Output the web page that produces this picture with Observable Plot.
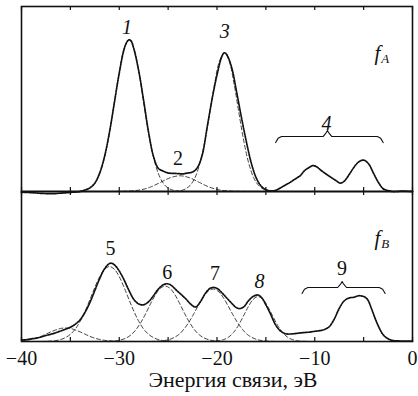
<!DOCTYPE html>
<html><head><meta charset="utf-8">
<script src="https://cdn.jsdelivr.net/npm/d3@7"></script>
<script src="https://cdn.jsdelivr.net/npm/@observablehq/plot@0.6"></script>
<style>
body{margin:0;background:#fff}
#chart svg{display:block}
#chart svg, #chart svg text{font-family:"Liberation Serif","Times New Roman",serif !important}
</style>
</head><body><div id="chart"></div>
<script>
// ---- data (binding energy, eV ; relative intensity) ----
const xTicks = [-40, -30, -20, -10, 0];
const xMinorTicks = [-40, -35, -30, -25, -20, -15, -10, -5, 0];
const xTitle = "Энергия связи, эВ";

const fA = [[-40,-0.004],[-39.5,-0.005],[-39,-0.006],[-38.5,-0.008],[-38,-0.01],[-37.5,-0.011],[-37,-0.012],[-36.5,-0.011],[-36,-0.009],[-35.5,-0.007],[-35,-0.005],[-34.5,-0.003],[-34,0],[-33.5,0.008],[-33,0.02],[-32.5,0.045],[-32,0.1],[-31.5,0.19],[-31,0.32],[-30.5,0.48],[-30,0.64],[-29.5,0.77],[-29.2,0.81],[-29,0.82],[-28.8,0.815],[-28.5,0.77],[-28,0.65],[-27.5,0.49],[-27,0.32],[-26.5,0.19],[-26,0.125],[-25.5,0.11],[-25,0.1],[-24.5,0.098],[-24,0.097],[-23.5,0.095],[-23,0.1],[-22.5,0.105],[-22,0.13],[-21.5,0.2],[-21,0.35],[-20.5,0.5],[-20,0.63],[-19.5,0.73],[-19.25,0.75],[-19,0.74],[-18.5,0.67],[-18,0.54],[-17.5,0.4],[-17,0.27],[-16.5,0.155],[-16,0.075],[-15.5,0.03],[-15,0.01],[-14.5,0.003],[-14,0.006],[-13.5,0.02],[-13,0.035],[-12.5,0.05],[-12,0.068],[-11.5,0.085],[-11,0.115],[-10.5,0.132],[-10.2,0.14],[-9.8,0.133],[-9.3,0.112],[-8.8,0.093],[-8.3,0.075],[-7.8,0.058],[-7.4,0.045],[-7,0.055],[-6.5,0.09],[-6,0.13],[-5.5,0.16],[-5,0.17],[-4.5,0.15],[-4,0.1],[-3.5,0.05],[-3,0.015],[-2.5,0.005],[-2,0],[-1,0.002],[0,0]];

const compA1 = [[-34,0.002],[-33.5,0.007],[-33,0.018],[-32.5,0.045],[-32,0.097],[-31.5,0.186],[-31,0.317],[-30.5,0.48],[-30,0.646],[-29.5,0.772],[-29,0.82],[-28.5,0.772],[-28,0.646],[-27.5,0.48],[-27,0.317],[-26.5,0.186],[-26,0.097],[-25.5,0.045],[-25,0.018],[-24.5,0.007],[-24,0.002],[-22,0]];
const compA2 = [[-31,0],[-29.8,0.001],[-28.8,0.003],[-27.8,0.009],[-26.8,0.024],[-25.8,0.049],[-24.8,0.074],[-23.8,0.085],[-22.8,0.074],[-21.8,0.049],[-20.8,0.024],[-19.8,0.009],[-18.8,0.003],[-17.8,0.001],[-15,0]];
const compA3 = [[-25,0],[-24.25,0.001],[-23.75,0.004],[-23.25,0.013],[-22.75,0.033],[-22.25,0.075],[-21.75,0.152],[-21.25,0.27],[-20.75,0.422],[-20.25,0.581],[-19.75,0.704],[-19.25,0.75],[-18.75,0.704],[-18.25,0.581],[-17.75,0.422],[-17.25,0.27],[-16.75,0.152],[-16.25,0.075],[-15.75,0.033],[-15.25,0.013],[-14.75,0.004],[-14.25,0.001],[-13,0]];

const fB = [[-40,0.01],[-39.5,0.012],[-39,0.018],[-38.5,0.022],[-38,0.03],[-37.5,0.04],[-37,0.048],[-36.5,0.058],[-36,0.07],[-35.5,0.082],[-35,0.095],[-34.5,0.115],[-34,0.145],[-33.5,0.195],[-33,0.26],[-32.5,0.34],[-32,0.42],[-31.5,0.485],[-31,0.52],[-30.7,0.52],[-30.4,0.505],[-30,0.47],[-29.5,0.41],[-29,0.34],[-28.5,0.28],[-28,0.25],[-27.5,0.245],[-27,0.265],[-26.5,0.305],[-26,0.35],[-25.5,0.378],[-25.1,0.385],[-24.7,0.375],[-24.2,0.345],[-23.7,0.315],[-23.2,0.285],[-22.7,0.25],[-22.2,0.23],[-21.7,0.265],[-21.2,0.32],[-20.7,0.355],[-20.3,0.36],[-19.9,0.35],[-19.5,0.325],[-19,0.29],[-18.5,0.255],[-18,0.225],[-17.6,0.22],[-17.2,0.235],[-16.8,0.27],[-16.3,0.3],[-15.8,0.31],[-15.4,0.29],[-15,0.245],[-14.5,0.18],[-14,0.11],[-13.5,0.07],[-13,0.052],[-12.5,0.05],[-12,0.053],[-11.5,0.057],[-11,0.06],[-10.5,0.063],[-10,0.068],[-9.5,0.072],[-9,0.08],[-8.5,0.1],[-8,0.15],[-7.5,0.22],[-7,0.27],[-6.5,0.29],[-6,0.295],[-5.5,0.305],[-5,0.3],[-4.6,0.28],[-4.2,0.22],[-3.8,0.15],[-3.4,0.09],[-3,0.045],[-2.5,0.018],[-2,0.006],[-1.5,0.004],[-1,0.003],[-0.5,0.002],[0,0.002]];

const compB0 = [[-40,0.004],[-39.5,0.008],[-39,0.014],[-38.5,0.022],[-38,0.034],[-37.5,0.049],[-37,0.064],[-36.5,0.077],[-36,0.087],[-35.5,0.09],[-35,0.087],[-34.5,0.077],[-34,0.064],[-33.5,0.049],[-33,0.034],[-32.5,0.022],[-32,0.014],[-31.5,0.008],[-31,0.004],[-30.5,0.002],[-30,0.001],[-28,0]];
const compB5 = [[-38,0],[-37,0.0026],[-36.5,0.006],[-36,0.013],[-35.5,0.026],[-35,0.048],[-34.5,0.083],[-34,0.134],[-33.5,0.201],[-33,0.279],[-32.5,0.36],[-32,0.432],[-31.5,0.482],[-31,0.5],[-30.5,0.482],[-30,0.432],[-29.5,0.36],[-29,0.279],[-28.5,0.201],[-28,0.134],[-27.5,0.083],[-27,0.048],[-26.5,0.026],[-26,0.013],[-25.5,0.006],[-25,0.0026],[-23,0]];
const compB6 = [[-32.5,0],[-31.3,0.0007],[-30.3,0.005],[-29.8,0.011],[-29.3,0.023],[-28.8,0.044],[-28.3,0.078],[-27.8,0.126],[-27.3,0.185],[-26.8,0.251],[-26.3,0.311],[-25.8,0.354],[-25.3,0.37],[-24.8,0.354],[-24.3,0.311],[-23.8,0.251],[-23.3,0.185],[-22.8,0.126],[-22.3,0.078],[-21.8,0.044],[-21.3,0.023],[-20.8,0.011],[-20.3,0.005],[-19.3,0.0007],[-18,0]];
const compB7 = [[-27.5,0],[-26.4,0.001],[-25.4,0.006],[-24.9,0.013],[-24.4,0.026],[-23.9,0.047],[-23.4,0.081],[-22.9,0.126],[-22.4,0.182],[-21.9,0.242],[-21.4,0.297],[-20.9,0.336],[-20.4,0.35],[-19.9,0.336],[-19.4,0.297],[-18.9,0.242],[-18.4,0.182],[-17.9,0.126],[-17.4,0.081],[-16.9,0.047],[-16.4,0.026],[-15.9,0.013],[-15.4,0.006],[-14.4,0.001],[-13,0]];
const compB8 = [[-21.5,0],[-20.8,0.0005],[-19.8,0.005],[-19.3,0.013],[-18.8,0.03],[-18.3,0.061],[-17.8,0.108],[-17.3,0.169],[-16.8,0.232],[-16.3,0.281],[-15.8,0.3],[-15.3,0.281],[-14.8,0.232],[-14.3,0.169],[-13.8,0.108],[-13.3,0.061],[-12.8,0.03],[-12.3,0.013],[-11.8,0.005],[-10.8,0.0005],[-10,0]];

const peakNamesA = ["1", "2", "3", "4"];
const peakXA = [-29.2, -24.0, -19.2, -8.8];
const peakYA = [0.886, 0.178, 0.862, 0.368];
const peakNamesB = ["5", "6", "7", "8", "9"];
const peakXB = [-30.9, -25.1, -20.2, -15.65, -7.2];
const peakYB = [0.62, 0.46, 0.453, 0.40, 0.487];

const braceA = {from: -14, to: -3, mid: -8.7, level: 0.297};
const braceB = {from: -11.3, to: -2.8, mid: -7.2, level: 0.36};

const panelNames = ["A", "B"];
const panelNameX = [-3.6, -3.6];
const panelNameY = [0.746, 0.687];

// ---- drawing ----
const italicPeaks = new Set(["1", "3", "4", "8"]);
const font = "Liberation Serif";

function bracePath(b, hPx) {
  const drop = 6 / hPx, tip = 6 / hPx;
  return [[b.from, b.level - drop], [b.from + 0.25, b.level - drop * 0.3], [b.from + 0.6, b.level],
          [b.mid - 0.45, b.level], [b.mid - 0.1, b.level + tip * 0.7], [b.mid, b.level + tip],
          [b.mid + 0.1, b.level + tip * 0.7], [b.mid + 0.45, b.level],
          [b.to - 0.6, b.level], [b.to - 0.25, b.level - drop * 0.3], [b.to, b.level - drop]];
}

function panel({data, comps, names, xs, ys, brace, pname, px, py, height, marginTop, marginBottom, innerH, axis}) {
  const labels = names.map((t, i) => ({t, x: xs[i], y: ys[i]}));
  const marks = [
    ...comps.map(c => Plot.line(c, {stroke: "#222", strokeWidth: 0.85, strokeDasharray: "4,2.6", curve: "catmull-rom"})),
    Plot.line(data, {stroke: "#111", strokeWidth: 1.7, strokeDasharray: "1.6,1.1", curve: "catmull-rom"}),
    Plot.ruleX(xMinorTicks, {y1: 0, y2: 4 / innerH, stroke: "#111", strokeWidth: 1.2}),
    Plot.ruleX(xMinorTicks, {y1: 1, y2: 1 - 4 / innerH, stroke: "#111", strokeWidth: 1.2}),
    Plot.frame({stroke: "#111", strokeWidth: 1.6}),
    Plot.text(labels.filter(d => italicPeaks.has(d.t)), {x: "x", y: "y", text: "t", fontSize: 20, fontStyle: "italic", fontFamily: font, fill: "#111"}),
    Plot.text(labels.filter(d => !italicPeaks.has(d.t)), {x: "x", y: "y", text: "t", fontSize: 20, fontFamily: font, fill: "#111"}),
    Plot.line(bracePath(brace, innerH), {stroke: "#111", strokeWidth: 1.1}),
    Plot.text([{x: px, y: py}], {x: "x", y: "y", text: () => "f", fontSize: 21, fontStyle: "italic", fontFamily: font, fill: "#111"}),
    Plot.text([{x: px, y: py}], {x: "x", y: "y", text: () => pname, fontSize: 13, fontStyle: "italic", fontFamily: font, dx: 8, dy: 5, fill: "#111"})
  ];
  if (axis) {
    marks.push(Plot.axisX(xTicks, {anchor: "bottom", tickSize: 0, tickPadding: 9, fontSize: 20, fontFamily: font, fill: "#111", label: null}));
    marks.push(Plot.text([xTitle], {frameAnchor: "bottom", dx: 16, dy: 45, text: d => d, fontSize: 22, fontFamily: font, fill: "#111"}));
  }
  return Plot.plot({
    width: 418, height, marginTop, marginBottom, marginLeft: 21, marginRight: 6,
    x: {domain: [-40, 0], axis: null},
    y: {domain: [0, 1], axis: null},
    style: {fontFamily: font, fontSize: "19px", background: "white", overflow: "visible"},
    marks
  });
}

const chart = document.getElementById("chart");
chart.append(panel({data: fA, comps: [compA1, compA2, compA3], names: peakNamesA, xs: peakXA, ys: peakYA,
  brace: braceA, pname: panelNames[0], px: panelNameX[0], py: panelNameY[0],
  height: 191, marginTop: 6, marginBottom: 0, innerH: 185, axis: false}));
chart.append(panel({data: fB, comps: [compB0, compB5, compB6, compB7, compB8], names: peakNamesB, xs: peakXB, ys: peakYB,
  brace: braceB, pname: panelNames[1], px: panelNameX[1], py: panelNameY[1],
  height: 205, marginTop: 0, marginBottom: 55, innerH: 150, axis: true}));
</script></body></html>
